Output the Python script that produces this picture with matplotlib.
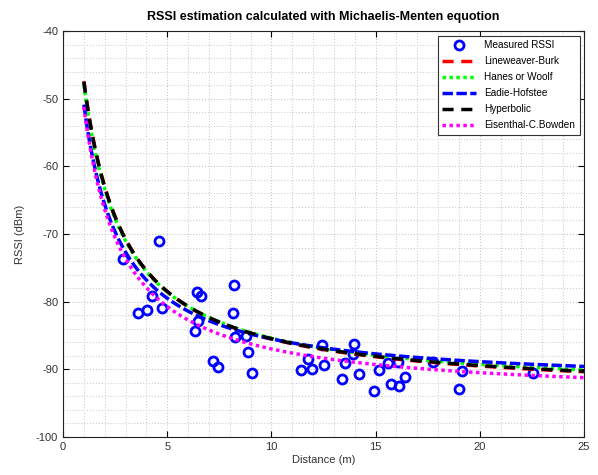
import numpy as np
import matplotlib
matplotlib.use("Agg")
import matplotlib.pyplot as plt
from matplotlib.ticker import MultipleLocator

plt.rcParams['font.family'] = ['Liberation Sans', 'DejaVu Sans']
plt.rcParams['axes.unicode_minus'] = False

# Measured RSSI samples
dist_meas = [2.89, 3.58, 4.01, 4.27, 4.62, 4.73, 6.35, 6.41, 6.46, 6.61, 7.21, 7.42,
             8.17, 8.22, 8.25, 8.78, 8.86, 9.05, 11.4, 11.77, 11.96, 12.44, 12.51,
             13.37, 13.55, 13.9, 13.96, 14.22, 14.92, 15.18, 15.61, 15.74, 16.06,
             16.1, 16.41, 17.77, 19.0, 19.16, 22.54]
rssi_meas = [-73.7, -81.65, -81.2, -79.2, -71.1, -80.9, -84.3, -78.5, -82.8, -79.1,
             -88.8, -89.7, -81.7, -77.6, -85.2, -85.1, -87.5, -90.5, -90.1, -88.5,
             -90.0, -86.4, -89.4, -91.4, -89.1, -87.8, -86.3, -90.7, -93.2, -90.1,
             -89.1, -92.1, -88.9, -92.4, -91.1, -88.9, -92.9, -90.2, -90.6]

# Michaelis-Menten fitted parameters per method: RSSI = Vmax*d/(Km+d)
methods = ['Lineweaver-Burk', 'Hanes or Woolf', 'Eadie-Hofstee', 'Hyperbolic', 'Eisenthal-C.Bowden']
vmax = [-93.9, -93.5, -92.5, -93.8, -94.3]
km = [0.98, 0.95, 0.818, 0.975, 0.841]
d_range = [1.0, 25.0]

colors = ['#ff0000', '#00ff00', '#0000ff', '#000000', '#ff00ff']
styles = [(0, (3.2, 2.2)), (0, (1, 1)), (0, (3, 1)), (0, (3.2, 2.2)), (0, (1, 1))]

fig = plt.figure(figsize=(5.98, 4.75), dpi=100)
ax = fig.add_axes([0.1054, 0.08, 0.8712, 0.8547])

ax.plot(dist_meas, rssi_meas, 'o', mfc='none', mec='#0000ff', mew=2.0, ms=6.5,
        label='Measured RSSI', zorder=3)
d = np.linspace(d_range[0], d_range[1], 400)
for name, vm, k, c, ls in zip(methods, vmax, km, colors, styles):
    ax.plot(d, vm * d / (k + d), color=c, linestyle=ls, lw=2.5, label=name, zorder=4)

ax.set_xlim(0, 25)
ax.set_ylim(-100, -40)
ax.xaxis.set_major_locator(MultipleLocator(5))
ax.xaxis.set_minor_locator(MultipleLocator(1))
ax.yaxis.set_major_locator(MultipleLocator(10))
ax.yaxis.set_minor_locator(MultipleLocator(2))
ax.grid(True, which='major', color='#c8c8c8', lw=0.8, ls=':')
ax.grid(True, which='minor', color='#d0d0d0', lw=0.8, ls=':')
ax.set_axisbelow(True)
ax.tick_params(which='both', direction='in', top=True, right=True, labelsize=8,
               labelcolor='#333333')
ax.tick_params(which='major', length=4)
ax.tick_params(which='minor', length=0)
for s in ax.spines.values():
    s.set_color('#222222')
    s.set_linewidth(0.8)

ax.set_xlabel('Distance (m)', fontsize=8, color='#333333', labelpad=2)
ax.set_ylabel('RSSI (dBm)', fontsize=8, color='#333333', labelpad=8)
ax.set_title('RSSI estimation calculated with Michaelis-Menten equotion',
             fontsize=9, fontweight='bold', pad=8)

leg = ax.legend(loc='upper right', fontsize=7.2, frameon=True, fancybox=False,
                edgecolor='#333333', framealpha=1, handlelength=3.4,
                borderaxespad=0.45, labelspacing=0.6, borderpad=0.45)
leg.get_frame().set_linewidth(0.8)

fig.savefig('out.png', dpi=100)
